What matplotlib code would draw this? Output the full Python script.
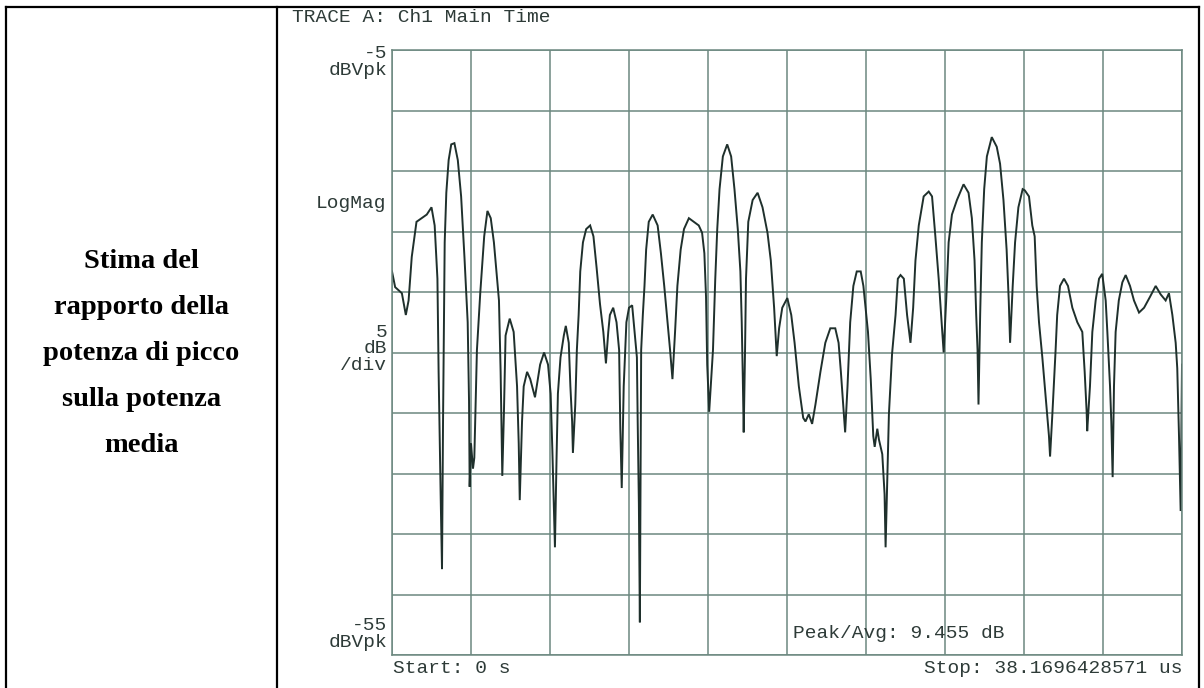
import numpy as np
import matplotlib
matplotlib.use("Agg")
import matplotlib.pyplot as plt
from matplotlib.lines import Line2D
from matplotlib.font_manager import FontProperties

# ---------------- data ----------------
left_label_lines = ["Stima del", "rapporto della", "potenza di picco", "sulla potenza", "media"]
trace_title = "TRACE A: Ch1 Main Time"
y_top_db = -5
y_bottom_db = -55
db_per_div = 5
stop_us = 38.1696428571
n_xdiv = 10
peak_avg_db = 9.455

# trace position in screen divisions (0..10) and level in dBVpk
trace_div = [
    0.0, 0.04, 0.125, 0.175, 0.21, 0.25, 0.31, 0.375, 0.44, 0.5, 0.54, 0.575, 0.59, 0.617, 0.633,
    0.646, 0.667, 0.6875, 0.717, 0.75, 0.79, 0.833, 0.875, 0.917, 0.958, 0.975, 0.983, 1.0, 1.025,
    1.042, 1.075, 1.117, 1.167, 1.208, 1.25, 1.29, 1.354, 1.375, 1.396, 1.417, 1.4375, 1.49, 1.54,
    1.583, 1.604, 1.617, 1.646, 1.667, 1.71, 1.75, 1.81, 1.875, 1.925, 1.975, 2.008, 2.03, 2.0625,
    2.083, 2.1, 2.133, 2.175, 2.2, 2.2375, 2.258, 2.28, 2.29, 2.32, 2.34, 2.3625, 2.383, 2.417,
    2.458, 2.508, 2.55, 2.59, 2.633, 2.675, 2.708, 2.7375, 2.758, 2.8, 2.842, 2.875, 2.89, 2.908,
    2.933, 2.967, 3.0, 3.04, 3.07, 3.1, 3.11, 3.125, 3.1375, 3.154, 3.175, 3.196, 3.217, 3.25, 3.3,
    3.3625, 3.404, 3.446, 3.4875, 3.52, 3.55, 3.583, 3.6125, 3.654, 3.696, 3.758, 3.82, 3.883,
    3.925, 3.954, 3.975, 3.99, 4.015, 4.063, 4.092, 4.117, 4.146, 4.188, 4.243, 4.293, 4.335,
    4.377, 4.41, 4.427, 4.44, 4.452, 4.469, 4.481, 4.51, 4.565, 4.628, 4.69, 4.753, 4.795, 4.837,
    4.87, 4.9, 4.94, 5.004, 5.054, 5.096, 5.15, 5.205, 5.234, 5.276, 5.318, 5.36, 5.423, 5.485,
    5.548, 5.611, 5.653, 5.682, 5.715, 5.736, 5.766, 5.8, 5.84, 5.883, 5.933, 5.967, 6.025, 6.06,
    6.092, 6.11, 6.143, 6.164, 6.206, 6.235, 6.248, 6.27, 6.29, 6.33, 6.374, 6.403, 6.437, 6.479,
    6.52, 6.563, 6.597, 6.626, 6.668, 6.73, 6.794, 6.836, 6.878, 6.92, 6.962, 6.983, 7.017, 7.046,
    7.088, 7.151, 7.235, 7.298, 7.34, 7.374, 7.395, 7.412, 7.424, 7.445, 7.466, 7.496, 7.53,
    7.592, 7.655, 7.697, 7.74, 7.78, 7.807, 7.824, 7.857, 7.887, 7.929, 7.983, 8.01, 8.063, 8.105,
    8.135, 8.16, 8.19, 8.232, 8.274, 8.316, 8.33, 8.359, 8.4, 8.42, 8.456, 8.506, 8.557, 8.612,
    8.675, 8.738, 8.768, 8.793, 8.8, 8.835, 8.865, 8.907, 8.95, 8.99, 9.034, 9.055, 9.089, 9.105,
    9.122, 9.139, 9.16, 9.2, 9.245, 9.287, 9.342, 9.392, 9.456, 9.52, 9.595, 9.667, 9.73, 9.793,
    9.835, 9.878, 9.92, 9.94, 9.962, 9.983, 10.0,
]
trace_db = [
    -23.3, -24.6, -25.1, -26.9, -25.7, -22.1, -19.2, -18.9, -18.6, -18.0, -19.5, -23.9, -31.6, -42.2, -47.9,
    -35.7, -20.9, -16.8, -14.1, -12.8, -12.7, -14.1, -17.1, -22.1, -27.5, -34.0, -41.1, -37.5, -39.6,
    -38.7, -29.8, -25.1, -20.4, -18.3, -18.9, -20.9, -25.7, -31.6, -40.2, -34.9, -28.6, -27.2, -28.3,
    -32.8, -37.5, -42.2, -35.7, -32.8, -31.6, -32.2, -33.7, -31.0, -30.0, -31.0, -33.4, -38.1, -46.1,
    -38.7, -33.4, -30.4, -28.6, -27.8, -29.2, -32.8, -35.7, -38.3, -34.3, -29.8, -26.9, -23.3, -20.9,
    -19.8, -19.5, -20.4, -23.0, -26.0, -28.3, -30.9, -28.3, -26.9, -26.3, -27.5, -29.8, -36.3, -41.2,
    -32.8, -27.5, -26.3, -26.1, -28.3, -30.4, -35.7, -42.5, -52.3, -29.8, -26.9, -24.5, -21.5, -19.2, -18.6,
    -19.5, -21.8, -24.5, -27.5, -29.8, -32.2, -28.3, -24.5, -21.5, -19.8, -18.9, -19.2, -19.5,
    -20.1, -21.8, -25.4, -31.0, -34.9, -29.8, -23.9, -19.8, -16.5, -13.8, -12.8, -13.8, -16.5,
    -19.8, -23.3, -27.5, -31.9, -36.6, -29.8, -23.9, -19.2, -17.4, -16.8, -18.0, -20.1, -22.4, -26.3,
    -30.3, -28.0, -26.3, -25.5, -26.9, -29.2, -32.8, -35.4, -35.7, -35.1, -35.9, -34.3, -31.6, -29.2,
    -28.0, -28.0, -29.2, -31.6, -34.6, -36.6, -32.8, -27.5, -24.5, -23.3, -23.3, -24.5, -28.3, -32.2,
    -36.9, -37.8, -36.3, -37.2, -38.4, -41.7, -46.1, -40.2, -35.1, -30.1, -26.9, -23.9, -23.6, -23.9,
    -26.9, -29.2, -26.3, -22.4, -19.5, -17.1, -16.7, -17.1, -20.4, -23.9, -28.0, -30.0, -25.4, -20.9,
    -18.6, -17.4, -16.1, -16.8, -18.9, -22.4, -26.9, -29.8, -34.3, -26.9, -20.9, -16.5, -13.8,
    -12.2, -13.0, -14.4, -17.4, -21.5, -25.7, -29.2, -24.5, -20.9, -18.0, -16.5, -16.6, -17.1, -19.5,
    -20.4, -24.5, -27.5, -30.4, -33.7, -36.9, -38.6, -35.1, -29.8, -26.9, -24.5, -23.9, -24.5, -26.3,
    -27.5, -28.3, -31.6, -34.9, -36.5, -32.8, -28.3, -25.7, -23.9, -23.5, -25.7, -28.3, -32.8, -35.7,
    -40.3, -32.8, -28.3, -25.7, -24.2, -23.6, -24.5, -25.7, -26.7, -26.3, -25.4, -24.5, -25.2, -25.7,
    -25.1, -26.9, -29.2, -31.3, -36.9, -43.1, -31.0,
]

# ---------------- figure ----------------
W, H = 1204, 688
fig = plt.figure(figsize=(W / 100, H / 100), dpi=100)
fig.patch.set_facecolor("white")


def fx(px):
    return px / W


def fy(py):
    return 1 - py / H


# table frame
frame_kw = dict(color="black", lw=1.6, solid_capstyle="projecting")
fig.add_artist(Line2D([fx(6), fx(1199)], [fy(7), fy(7)], **frame_kw))
fig.add_artist(Line2D([fx(6), fx(6)], [fy(7), fy(H + 2)], **frame_kw))
fig.add_artist(Line2D([fx(277), fx(277)], [fy(7), fy(H + 2)], **frame_kw))
fig.add_artist(Line2D([fx(1199), fx(1199)], [fy(7), fy(H + 2)], **frame_kw))

# left cell text
for i, line in enumerate(left_label_lines):
    fig.text(fx(141.5), fy(258 + 46 * i + 4), line, ha="center", va="center",
             family="Liberation Serif", fontweight="bold", fontsize=20.5, color="black")

# analyzer screen
ax_l, ax_r, ax_t, ax_b = 392, 1182, 50, 655
ax = fig.add_axes([fx(ax_l), fy(ax_b), (ax_r - ax_l) / W, (ax_b - ax_t) / H])
time_us = np.array(trace_div) * stop_us / n_xdiv
ax.set_xlim(0, stop_us)
ax.set_ylim(y_bottom_db, y_top_db)
ax.set_xticks(np.arange(n_xdiv + 1) * stop_us / n_xdiv)
ax.set_yticks(np.arange(y_bottom_db, y_top_db + 1, db_per_div))
grid_col = "#6c8880"
ax.grid(True, color=grid_col, lw=1.1)
ax.tick_params(length=0, labelbottom=False, labelleft=False)
for s in ax.spines.values():
    s.set_color(grid_col)
    s.set_linewidth(1.1)
ax.set_facecolor("white")
ax.plot(time_us, trace_db, color="#1f302c", lw=1.4, solid_joinstyle="miter")

# screen annotations
tc = "#2e3b38"
mono_size = 14.0
mono = dict(family="Liberation Mono", color=tc, fontsize=mono_size)

# line spacing so that stacked labels sit ~16 px apart (baseline to baseline)
renderer = fig.canvas.get_renderer()
fp = FontProperties(family="Liberation Mono", size=mono_size)
lp_w, lp_h, lp_d = renderer.get_text_width_height_descent("lp", fp, ismath=False)
ls = (16.5 - lp_d) / (lp_h - lp_d)

fig.text(fx(292), fy(22), trace_title, ha="left", va="baseline", **mono)
fig.text(fx(387), fy(75), f"{y_top_db}\ndBVpk", ha="right", va="baseline",
         multialignment="right", linespacing=ls, **mono)
fig.text(fx(316), fy(208), "LogMag", ha="left", va="baseline", **mono)
fig.text(fx(387), fy(370), f"{db_per_div}\ndB\n/div", ha="right", va="baseline",
         multialignment="right", linespacing=ls, **mono)
fig.text(fx(387), fy(647), f"{y_bottom_db}\ndBVpk", ha="right", va="baseline",
         multialignment="right", linespacing=ls, **mono)
fig.text(fx(393), fy(673), "Start: 0 s", ha="left", va="baseline", **mono)
fig.text(fx(1182), fy(673), f"Stop: {stop_us:.10f} us", ha="right", va="baseline", **mono)
fig.text(fx(793), fy(638), f"Peak/Avg: {peak_avg_db} dB", ha="left", va="baseline", **mono)

fig.savefig("out.png", dpi=100, facecolor="white")
